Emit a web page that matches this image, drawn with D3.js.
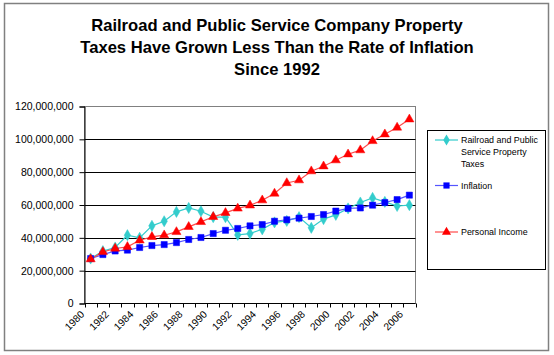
<!DOCTYPE html>
<html>
<head>
<meta charset="utf-8">
<script src="https://cdn.jsdelivr.net/npm/d3@7"></script>
<style>
  html, body { margin: 0; padding: 0; background: #fff; }
  svg { display: block; font-family: "Liberation Sans", Arial, sans-serif; }
</style>
</head>
<body>
<svg id="chart" width="554" height="355"></svg>
<script>
// ---- Data (values in dollars) ----
const years = [1980,1981,1982,1983,1984,1985,1986,1987,1988,1989,1990,1991,1992,1993,1994,1995,1996,1997,1998,1999,2000,2001,2002,2003,2004,2005,2006];
const railroadTaxes = [27.4,31.9,34.1,41.6,40.0,47.3,50.1,55.8,58.2,56.2,52.6,52.6,41.8,42.6,45.2,49.4,50.3,52.6,46.1,51.4,54.0,57.9,61.5,64.3,61.9,59.4,59.9].map(v => v * 1e6);
const inflation = [27.4,29.8,32.0,32.5,34.1,35.3,35.9,37.1,39.0,40.2,42.6,44.6,45.7,47.3,48.1,50.1,51.0,52.0,53.0,54.2,56.3,57.9,58.2,59.9,61.5,63.3,66.0].map(v => v * 1e6);
const personalIncome = [27.0,31.4,33.5,34.5,38.5,40.6,41.6,43.6,46.7,49.7,52.8,55.2,57.9,59.8,62.9,67.0,73.4,75.1,80.6,83.6,87.3,90.9,93.4,99.0,103.1,107.2,112.2].map(v => v * 1e6);
const yTicks = [0, 20e6, 40e6, 60e6, 80e6, 100e6, 120e6];
const xLabels = [1980,1982,1984,1986,1988,1990,1992,1994,1996,1998,2000,2002,2004,2006];
const titleLines = ["Railroad and Public Service Company Property", "Taxes Have Grown Less Than the Rate of Inflation", "Since 1992"];
const seriesNames = [["Railroad and Public", "Service Property", "Taxes"], ["Inflation"], ["Personal Income"]];

const series = [
  { name: seriesNames[0], values: railroadTaxes, color: "#33CCCC", line: "#33CCCC", symbol: d3.symbolDiamond, size: 36 },
  { name: seriesNames[1], values: inflation, color: "#0000FF", line: "#5555FF", symbol: d3.symbolSquare, size: 38 },
  { name: seriesNames[2], values: personalIncome, color: "#FF0000", line: "#FF4A4A", symbol: d3.symbolTriangle, size: 36 }
];

const svg = d3.select("#chart");
const W = 554, H = 355;

// outer chart border
svg.append("rect").attr("x", 4.5).attr("y", 3.5).attr("width", 544).attr("height", 347)
  .attr("fill", "#fff").attr("stroke", "#808080").attr("stroke-width", 1.5);

// title
const title = svg.append("text").attr("text-anchor", "middle")
  .attr("font-size", 16.6).attr("font-weight", "bold").attr("fill", "#000");
titleLines.forEach((t, i) => {
  title.append("tspan").attr("x", W / 2).attr("y", 31 + i * 22).text(t);
});

// plot area
const px0 = 84.5, px1 = 415.5, py0 = 106.5, py1 = 303.5;
const x = d3.scaleBand().domain(years).range([px0, px1]).padding(0);
const y = d3.scaleLinear().domain([0, 120e6]).range([py1, py0]);
const cx = d => x(d) + x.bandwidth() / 2;

// plot border (gray)
svg.append("rect").attr("x", px0).attr("y", py0).attr("width", px1 - px0).attr("height", py1 - py0)
  .attr("fill", "none").attr("stroke", "#808080").attr("stroke-width", 1);

// gridlines
svg.append("g").selectAll("line").data(yTicks.filter(t => t > 0 && t < 120e6)).join("line")
  .attr("x1", px0).attr("x2", px1)
  .attr("y1", d => Math.round(y(d)) + 0.5).attr("y2", d => Math.round(y(d)) + 0.5)
  .attr("stroke", "#000").attr("stroke-width", 1);

// y axis
const yAxis = svg.append("g").attr("transform", `translate(${px0},0)`)
  .call(d3.axisLeft(y).tickValues(yTicks).tickFormat(d3.format(",")).tickSize(5).tickPadding(6));
yAxis.select(".domain").attr("stroke", "#000");
yAxis.selectAll(".tick line").attr("stroke", "#000");
yAxis.selectAll("text").attr("font-size", 10.5).attr("fill", "#000").attr("font-family", "Liberation Sans, Arial, sans-serif");

// x axis line + ticks at category boundaries
const xg = svg.append("g");
xg.append("line").attr("x1", px0).attr("x2", px1).attr("y1", py1).attr("y2", py1).attr("stroke", "#000");
const bounds = years.map(d => x(d)).concat([px1]);
xg.selectAll("line.t").data(bounds).join("line").attr("class", "t")
  .attr("x1", d => Math.round(d) + 0.5).attr("x2", d => Math.round(d) + 0.5)
  .attr("y1", py1).attr("y2", py1 + 4).attr("stroke", "#000");
xg.selectAll("text").data(xLabels).join("text")
  .attr("transform", d => `translate(${cx(d) - 8},${py1 + 9}) rotate(-45)`)
  .attr("text-anchor", "end").attr("dominant-baseline", "central")
  .attr("font-size", 10.2).attr("fill", "#000").text(d => d);

// series lines and markers
series.forEach(s => {
  const line = d3.line().x((d, i) => cx(years[i])).y(d => y(d));
  svg.append("path").datum(s.values).attr("d", line)
    .attr("fill", "none").attr("stroke", s.line).attr("stroke-width", 1.2);
});
series.forEach(s => {
  svg.append("g").selectAll("path").data(s.values).join("path")
    .attr("transform", (d, i) => `translate(${cx(years[i])},${y(d)})`)
    .attr("d", d3.symbol().type(s.symbol).size(s.size))
    .attr("fill", s.color).attr("stroke", s.color).attr("stroke-width", 0.5);
});

// legend
const lg = svg.append("g");
lg.append("rect").attr("x", 427.5).attr("y", 130.5).attr("width", 118).attr("height", 139)
  .attr("fill", "#fff").attr("stroke", "#000").attr("stroke-width", 1);
const legendY = [140, 185.5, 232];
series.forEach((s, i) => {
  const ly = legendY[i];
  lg.append("line").attr("x1", 435).attr("x2", 458).attr("y1", ly).attr("y2", ly)
    .attr("stroke", s.line).attr("stroke-width", 1.2);
  lg.append("path").attr("transform", `translate(446.5,${ly})`)
    .attr("d", d3.symbol().type(s.symbol).size(s.size)).attr("fill", s.color);
  s.name.forEach((t, j) => {
    lg.append("text").attr("x", 461).attr("y", ly + j * 12.2).attr("dominant-baseline", "central")
      .attr("font-size", 8.9).attr("fill", "#000").text(t);
  });
});
</script>
</body>
</html>
